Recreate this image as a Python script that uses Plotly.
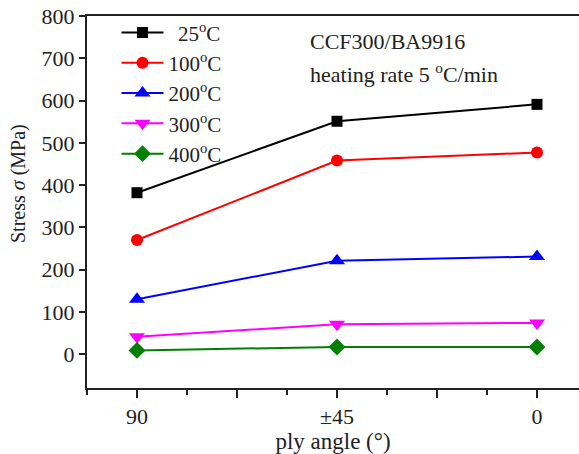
import plotly.graph_objects as go

# Ply angle categories (plotted at positions 0, 1, 2)
ply_angles = ["90", "±45", "0"]
ply_pos = [0, 1, 2]

temps = ["25", "100", "200", "300", "400"]
stress_25 = [382, 551, 591]
stress_100 = [270, 458, 477]
stress_200 = [130, 221, 231]
stress_300 = [41, 71, 74]
stress_400 = [9, 17, 17]

y_ticks = [0, 100, 200, 300, 400, 500, 600, 700, 800]

series = [
    (stress_25, temps[0], "black", "square", 11),
    (stress_100, temps[1], "red", "circle", 12),
    (stress_200, temps[2], "blue", "triangle-up", 14),
    (stress_300, temps[3], "magenta", "triangle-down", 14),
    (stress_400, temps[4], "green", "diamond", 13),
]

FONT = "Liberation Serif"
TXT = "#222"

fig = go.Figure()
for vals, t, color, sym, msize in series:
    label = ("\u00a0\u2009" if t == "25" else "") + t + "<sup>o</sup>C"
    fig.add_trace(go.Scatter(
        x=ply_pos, y=vals, mode="lines+markers", name=label,
        line=dict(color=color, width=2),
        marker=dict(symbol=sym, size=msize, color=color),
    ))

fig.update_layout(
    width=579, height=454,
    margin=dict(l=87, r=0, t=16, b=66),
    paper_bgcolor="white", plot_bgcolor="white",
    font=dict(family=FONT, size=22, color=TXT),
    showlegend=True,
    legend=dict(
        x=0.06, y=1.01, xanchor="left", yanchor="top",
        bgcolor="rgba(0,0,0,0)", borderwidth=0,
        itemwidth=42,
        font=dict(family=FONT, size=21, color=TXT),
    ),
    annotations=[
        dict(text="CCF300/BA9916", xref="paper", yref="paper",
             x=(308 - 87) / 492, y=1 - (42 - 16) / 372, xanchor="left", yanchor="middle",
             showarrow=False, font=dict(family=FONT, size=22, color=TXT)),
        dict(text="heating rate 5 <sup>o</sup>C/min", xref="paper", yref="paper",
             x=(308 - 87) / 492, y=1 - (73 - 16) / 372, xanchor="left", yanchor="middle",
             showarrow=False, font=dict(family=FONT, size=22, color=TXT)),
        dict(text="Stress <i>σ</i> (MPa)", xref="paper", yref="paper",
             x=(18 - 87) / 492, y=1 - (184 - 16) / 372, xanchor="center", yanchor="middle",
             textangle=-90, showarrow=False, font=dict(family=FONT, size=20, color=TXT)),
    ],
)

fig.update_xaxes(
    range=[-0.25, 2.21],
    tickmode="array",
    tickvals=[0, 0.5, 1, 1.5, 2],
    ticktext=[ply_angles[0], "", ply_angles[1], "", ply_angles[2]],
    ticks="outside", ticklen=8, tickwidth=2, tickcolor=TXT,
    minor=dict(tickmode="linear", tick0=0.25, dtick=0.5, ticks="outside",
               ticklen=5, tickwidth=2, tickcolor=TXT),
    showline=True, linecolor=TXT, linewidth=2, mirror=True,
    showgrid=False, zeroline=False,
    title=dict(text="ply angle (°)", standoff=2, font=dict(family=FONT, size=23)),
    tickfont=dict(family=FONT, size=22),
)
fig.update_yaxes(
    range=[-80, 800],
    tickmode="array", tickvals=y_ticks,
    ticks="outside", ticklen=6, tickwidth=2, tickcolor=TXT,
    showline=True, linecolor=TXT, linewidth=2, mirror=False,
    showgrid=False, zeroline=False,
    tickfont=dict(family=FONT, size=22),
)

fig.write_html("out.html")
